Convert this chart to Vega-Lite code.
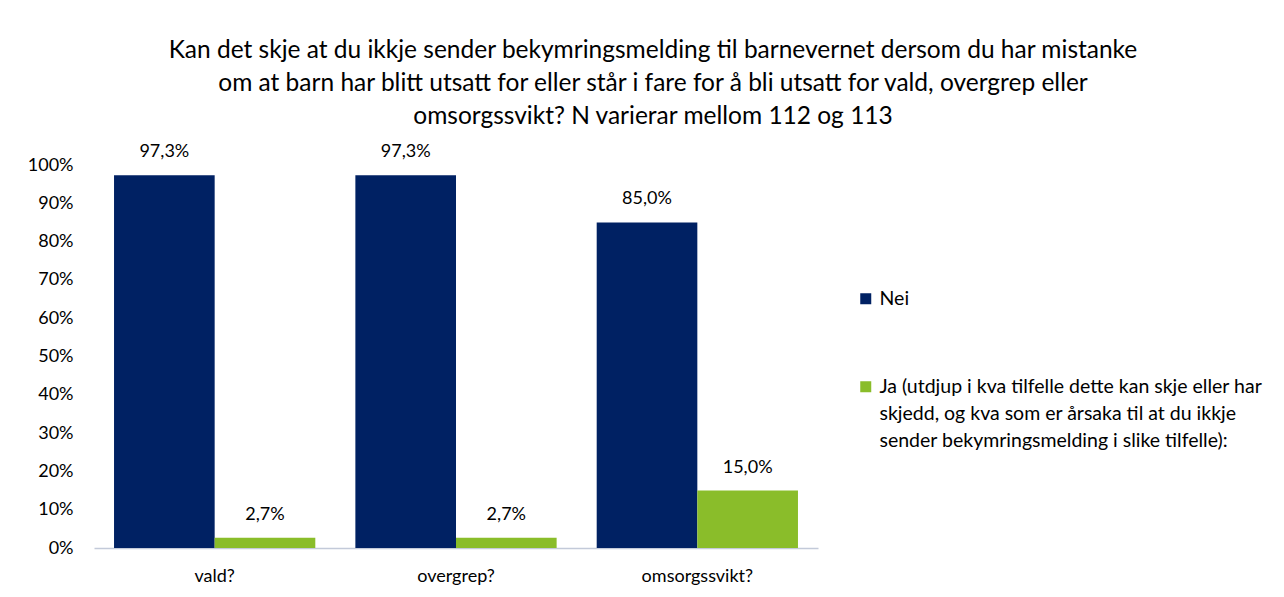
{
  "$schema": "https://vega.github.io/schema/vega-lite/v6.json",
  "autosize": "none",
  "padding": {"left": 94, "top": 165, "right": 466, "bottom": 49},
  "width": 724,
  "height": 383,
  "background": "white",
  "config": {
    "locale": {"number": {"decimal": ",", "thousands": " ", "grouping": [3], "currency": ["", " kr"]}},
    "view": {"stroke": null},
    "font": "Lato",
    "style": {"guide-label": {"lineHeight": 27}}
  },
  "title": {
    "text": [
      "Kan det skje at du ikkje sender bekymringsmelding til barnevernet dersom du har mistanke",
      "om at barn har blitt utsatt for eller står i fare for å bli utsatt for vald, overgrep eller",
      "omsorgssvikt? N varierar mellom 112 og 113"
    ],
    "anchor": "middle",
    "frame": "group",
    "dx": 197,
    "fontSize": 24.5,
    "fontWeight": "normal",
    "font": "Lato",
    "color": "#000000",
    "lineHeight": 33,
    "offset": 14
  },
  "data": {
    "values": [
      {"kategori": "vald?", "svar": "Nei", "andel": 0.973},
      {"kategori": "vald?", "svar": "Ja", "andel": 0.027},
      {"kategori": "overgrep?", "svar": "Nei", "andel": 0.973},
      {"kategori": "overgrep?", "svar": "Ja", "andel": 0.027},
      {"kategori": "omsorgssvikt?", "svar": "Nei", "andel": 0.85},
      {"kategori": "omsorgssvikt?", "svar": "Ja", "andel": 0.15}
    ]
  },
  "encoding": {
    "x": {
      "field": "kategori",
      "type": "nominal",
      "sort": ["vald?", "overgrep?", "omsorgssvikt?"],
      "scale": {"paddingInner": 0.166, "paddingOuter": 0.083},
      "axis": {
        "title": null,
        "labelAngle": 0,
        "labelFontSize": 18,
        "labelColor": "#000000",
        "labelFont": "Lato",
        "labelPadding": 19,
        "ticks": false,
        "tickSize": 0,
        "domainColor": "#C3CAD9",
        "domainWidth": 1.5,
        "grid": false
      }
    },
    "xOffset": {
      "field": "svar",
      "type": "nominal",
      "scale": {"domain": ["Nei", "Ja"], "paddingInner": 0, "paddingOuter": 0}
    },
    "y": {
      "field": "andel",
      "type": "quantitative",
      "scale": {"domain": [0, 1]},
      "axis": {
        "title": null,
        "format": ".0%",
        "values": [0, 0.1, 0.2, 0.3, 0.4, 0.5, 0.6, 0.7, 0.8, 0.9, 1],
        "labelFontSize": 18,
        "labelColor": "#000000",
        "labelFont": "Lato",
        "labelPadding": 21,
        "ticks": false,
        "tickSize": 0,
        "domain": false,
        "grid": false
      }
    }
  },
  "layer": [
    {
      "mark": {"type": "bar"},
      "encoding": {
        "color": {
          "field": "svar",
          "type": "nominal",
          "scale": {
            "domain": ["Nei", "Ja"],
            "range": ["#002163", "#8ABD2A"]
          },
          "legend": {
            "title": null,
            "orient": "none",
            "legendX": 762,
            "legendY": 124,
            "symbolType": "square",
            "symbolSize": 121,
            "symbolStrokeWidth": 0,
            "labelFontSize": 19.5,
            "labelFont": "Lato",
            "labelColor": "#000000",
            "labelOffset": 4,
            "labelLimit": 500,
            "rowPadding": 67,
            "labelExpr": "datum.label == 'Nei' ? 'Nei' : ['Ja (utdjup i kva tilfelle dette kan skje eller har', 'skjedd, og kva som er årsaka til at du ikkje', 'sender bekymringsmelding i slike tilfelle):']"
          }
        }
      }
    },
    {
      "mark": {"type": "text", "baseline": "middle", "dy": -23, "fontSize": 18, "font": "Lato", "color": "#000000"},
      "encoding": {
        "text": {"field": "andel", "type": "quantitative", "format": ".1%"}
      }
    }
  ]
}
